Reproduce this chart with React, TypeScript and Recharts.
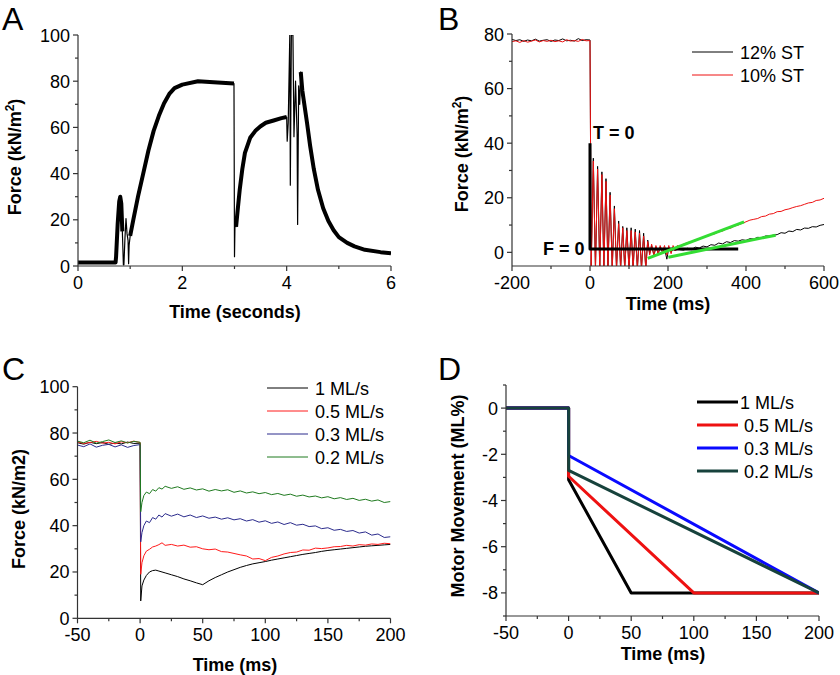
import React from "react";
import { LineChart, Line, XAxis, YAxis, Legend } from "recharts";

const FONT = '"Liberation Sans", Arial, sans-serif';
const AXIS = "#333";

// ---- Panel A: whole-twitch force trace (seconds)
const aTime = [0, 0.72, 0.73, 0.76, 0.79, 0.81, 0.83, 0.85, 0.87, 0.88, 0.9, 0.92, 0.94, 0.96, 0.97, 0.98, 1.0, 1.06, 1.15, 1.25, 1.35, 1.45, 1.55, 1.65, 1.75, 1.85, 2.0, 2.3, 2.6, 2.99, 3.0, 3.01, 3.03, 3.06, 3.1, 3.15, 3.2, 3.3, 3.4, 3.5, 3.6, 3.75, 3.9, 4.0, 4.01, 4.03, 4.06, 4.07, 4.09, 4.12, 4.14, 4.17, 4.2, 4.21, 4.23, 4.25, 4.27, 4.3, 4.39, 4.45, 4.52, 4.6, 4.7, 4.8, 4.9, 5.0, 5.16, 5.3, 5.5, 5.8, 6.0];
const aForce = [1.5, 1.5, 4, 18, 28, 30, 27, 15, 0.5, 0.5, 12, 20.5, 14, 11, 1, 9, 13, 20, 30, 40, 50, 58.5, 65, 70.5, 74.5, 77, 78.5, 80, 79.5, 79, 4, 19, 17, 24, 33, 42, 49, 55.5, 58.5, 60.5, 62, 63, 64, 64.5, 54, 62, 100, 35, 100, 100, 56, 80, 57, 18, 78, 70, 84, 76, 62, 52, 42, 33, 25, 19.5, 15.5, 12.5, 10, 8.5, 7, 6, 5.5];
// stretches where the recording is a thick noisy band
const aBandRanges = [[0, 0.85], [1.0, 2.99], [3.03, 4.0], [4.27, 6.0]];

// ---- Panel B: step release, 12% vs 10% ST (ms)
const bTime = [-200, -190, -180, -170, -160, -150, -140, -130, -120, -110, -100, -90, -80, -70, -60, -50, -40, -30, -20, -10, 0,
  3, 8.5, 14, 19.5, 25, 30.5, 35.5, 41, 46, 51.5, 57, 62.5, 68, 73.5, 78.5, 84, 89, 94.5, 100, 105.5, 110.5, 116, 121.5, 127, 132, 137.5, 143, 148,
  153, 158, 164, 169, 175, 180, 186, 191, 197, 202, 208, 213, 219, 224, 230,
  240, 250, 260, 270, 280, 290, 300, 310, 320, 330, 340, 350, 360, 370, 380, 390, 400, 410, 420, 430, 440, 450, 460, 470, 480, 490, 500, 510, 520, 530, 540, 550, 560, 570, 580, 590, 600];
const bBlack = [78.0, 77.6, 77.9, 77.3, 77.8, 77.5, 78.1, 77.4, 77.7, 77.9, 77.3, 77.8, 77.6, 78.2, 77.5, 77.7, 77.4, 78.3, 77.6, 77.9, 77.8,
  -6, 34.5, -6, 31.5, -6, 29.5, -6, 27, -6, 22, -6, 17, -6, 11.5, -6, 9.5, -6, 9, -6, 9, -6, 8.5, -6, 8, -6, 7, -6, 4.5,
  -0.5, 2.5, -1, 2, -0.5, 2, 0, 1.5, -2.5, 1.5, 0, 1.5, 0.5, 1.5, 1,
  0.8, 1.5, 1.0, 1.9, 1.6, 2.3, 2.0, 2.8, 2.6, 3.4, 3.1, 3.9, 3.6, 4.3, 4.1, 4.6, 4.4, 5.0, 4.9, 5.5, 5.4, 6.0, 6.0, 6.3, 6.5, 7.2, 7.0, 7.8, 7.6, 8.4, 8.2, 8.9, 8.8, 9.4, 9.3, 9.9, 10.2];
const bRed = [77.2, 77.5, 76.9, 77.6, 77.0, 77.4, 77.8, 77.1, 77.6, 77.3, 77.7, 77.2, 77.5, 77.1, 77.9, 77.4, 77.6, 77.3, 78.0, 77.5, 77.6,
  -6, 33.5, -6, 30.5, -6, 28.5, -6, 26, -6, 21, -6, 16, -6, 10.5, -6, 9, -6, 8, -6, 8, -6, 7.5, -6, 7, -6, 6, -6, 4,
  -1, 3, -1.5, 2.5, -0.5, 2.5, 0, 2.5, -1, 2.5, -0.5, 2.5, 0.5, 2.5, 2,
  3.0, 3.6, 3.9, 4.6, 4.9, 5.6, 5.9, 6.5, 6.8, 7.5, 7.8, 8.6, 8.8, 9.6, 10.0, 10.6, 11.2, 11.8, 12.1, 12.4, 13.1, 13.3, 14.0, 14.2, 14.9, 15.0, 15.6, 15.9, 16.4, 16.8, 17.1, 17.6, 18.1, 18.3, 19.0, 19.2, 19.8];
const bMarkTime = [0, 0, 380];
const bMarkForce = [40, 1.2, 1.2];
const bFit1Time = [148, 395];
const bFit1Force = [-2.2, 11.2];
const bFit2Time = [201, 476];
const bFit2Force = [-1.8, 6.3];
const bLabels = ["12% ST", "10% ST"];

// ---- Panel C: force during ramp releases (ms)
const cTime = [-50, -45, -40, -35, -30, -25, -20, -15, -10, -5, 0,
  0.5, 1.5, 3, 5, 7.5, 10, 12.5, 15, 17.5, 20,
  25, 30, 35, 40, 45, 50, 55, 60, 65, 70, 75, 80, 85, 90, 95, 100, 105, 110, 115, 120, 125, 130, 135, 140, 145, 150, 155, 160, 165, 170, 175, 180, 185, 190, 195, 200];
const c1 = [75.8, 75.2, 76.0, 75.4, 75.9, 75.1, 75.7, 75.3, 76.1, 75.5, 75.6,
  7.5, 14, 16.5, 18.5, 20, 20.6, 20.8, 20.4, 20, 19.6,
  18.8, 18, 17, 16.2, 15.3, 14.5, 16.2, 17.6, 18.8, 20, 21, 22, 22.8, 23.5, 24, 24.5, 25.1, 25.6, 26.1, 26.6, 27.1, 27.6, 28, 28.4, 28.9, 29.3, 29.6, 29.9, 30.2, 30.5, 30.8, 31.1, 31.3, 31.5, 31.7, 31.9];
const c05 = [76.2, 75.5, 75.9, 76.4, 75.6, 76.0, 75.3, 76.2, 75.8, 76.5, 75.9,
  19, 24, 27, 29, 29.8, 30.8, 31.2, 31.8, 32.6, 31.5,
  31.9, 31.2, 31.6, 30.7, 30.9, 30, 29.6, 29.9, 28.8, 28.6, 28, 27.4, 26.9, 25.6, 25.8, 24.9, 26.3, 26.9, 27.8, 28.4, 28.6, 29.5, 29.4, 30.3, 30.1, 30.4, 30.9, 31.0, 31.5, 31.2, 31.8, 31.6, 32.1, 31.9, 32.4, 32.2];
const c03 = [74.8, 74.1, 75.3, 73.9, 74.7, 75.1, 74.0, 74.9, 73.8, 74.6, 75.0,
  33, 37, 40, 42, 41.3, 43.5, 42.8, 44.6, 43.7, 45.2,
  44.1, 45.0, 43.8, 44.6, 43.5, 44.2, 43.2, 43.7, 42.8, 43.4, 42.5, 43.0, 42.0, 42.6, 41.5, 42.1, 41.0, 41.6, 40.5, 41.3, 40.2, 40.6, 39.6, 39.9, 38.7, 39.1, 38.0, 38.4, 37.5, 37.9, 36.8, 37.3, 35.9, 36.4, 34.9, 35.2];
const c02 = [76.5, 75.8, 76.9, 75.6, 76.3, 77.0, 75.9, 76.6, 75.7, 76.4, 76.0,
  46, 50, 53, 54.5, 53.8, 55.6, 54.9, 56.4, 55.8, 57.0,
  56.1, 56.8, 55.7, 56.3, 55.4, 55.9, 54.9, 55.6, 55.0, 55.5, 54.4, 55.0, 54.1, 54.6, 53.8, 54.3, 53.4, 53.9, 53.1, 53.6, 52.7, 53.2, 52.4, 52.8, 52.0, 52.5, 51.6, 52.1, 51.3, 51.8, 50.9, 51.4, 50.6, 51.1, 50.0, 50.4];
const speedLabels = ["1 ML/s", "0.5 ML/s", "0.3 ML/s", "0.2 ML/s"];

// ---- Panel D: motor movement (ML%)
const d1Time = [-50, 0, 0, 50, 200];
const d1Pos = [0, 0, -3.1, -8, -8];
const d05Time = [-50, 0, 0, 100, 200];
const d05Pos = [0, 0, -2.95, -8, -8];
const d03Time = [-50, 0, 0, 200];
const d03Pos = [0, 0, -2.05, -8];
const d02Time = [-50, 0, 0, 200];
const d02Pos = [0, 0, -2.7, -8];

const pts = (xs: number[], ys: (number | null)[]) => xs.map((x, i) => ({ x, y: ys[i] }));

const aTrace = pts(aTime, aForce);
const aBand = pts(aTime, aForce.map((f, i) => (aBandRanges.some(([s, e]) => aTime[i] >= s && aTime[i] <= e) ? f : null)));

const XTick = (props: any) => {
  const { x, y, payload, majors } = props;
  const major = majors.includes(payload.value);
  return (
    <g>
      <line x1={x} x2={x} y1={y} y2={y + (major ? 5 : 3)} stroke={AXIS} strokeWidth={1.2} />
      {major && (
        <text x={x} y={y + 23} textAnchor="middle" fontSize={18} fontFamily={FONT} fill="#000">
          {payload.value}
        </text>
      )}
    </g>
  );
};

const YTick = (props: any) => {
  const { x, y, payload, majors } = props;
  const major = majors.includes(payload.value);
  return (
    <g>
      <line x1={x - (major ? 5 : 3)} x2={x} y1={y} y2={y} stroke={AXIS} strokeWidth={1.2} />
      {major && (
        <text x={x - 8} y={y + 6.5} textAnchor="end" fontSize={18} fontFamily={FONT} fill="#000">
          {payload.value}
        </text>
      )}
    </g>
  );
};

function xAxis(domain: number[], ticks: number[], majors: number[]) {
  return (
    <XAxis type="number" dataKey="x" domain={domain} ticks={ticks} interval={0} allowDataOverflow
      height={30} tickSize={0} tickMargin={0} tickLine={false}
      axisLine={{ stroke: AXIS, strokeWidth: 1.2 }}
      tick={(p: any) => <XTick {...p} majors={majors} />} />
  );
}

function yAxis(domain: number[], ticks: number[], majors: number[]) {
  return (
    <YAxis type="number" domain={domain} ticks={ticks} interval={0} allowDataOverflow
      width={40} tickSize={0} tickMargin={0} tickLine={false}
      axisLine={{ stroke: AXIS, strokeWidth: 1.2 }}
      tick={(p: any) => <YTick {...p} majors={majors} />} />
  );
}

function LegendSvg({ labels, colors, width, lineW, textX }: any) {
  const gap = 23;
  return (
    <svg width={width} height={24 + (labels.length - 1) * gap} style={{ display: "block" }}>
      {labels.map((l: string, i: number) => {
        const cy = 12 + i * gap;
        return (
          <g key={l}>
            <line x1={0} x2={41} y1={cy} y2={cy} stroke={colors[i]} strokeWidth={lineW} />
            <text x={Array.isArray(textX) ? textX[i] : textX} y={cy + 6.5} fontSize={18} fontFamily={FONT} fill="#000">{l}</text>
          </g>
        );
      })}
    </svg>
  );
}

function legend(left: number, top: number, node: React.ReactNode) {
  return (
    <Legend layout="vertical" align="center" verticalAlign="middle"
      wrapperStyle={{ left, top, width: 160, height: "auto" }}
      content={() => node} />
  );
}

const C_COLORS = ["#000000", "#ff1a1a", "#2b2b8c", "#1f7a1f"];
const D_COLORS = ["#000000", "#ee1111", "#0a0aff", "#17423c"];

const line = (data: any[], color: string, w: number) => (
  <Line data={data} dataKey="y" stroke={color} strokeWidth={w} dot={false} activeDot={false}
    isAnimationActive={false} type="linear" strokeLinejoin="round" />
);

export default function App() {
  return (
    <div style={{ position: "absolute", left: 0, top: 0, width: 840, height: 675, background: "#fff", fontFamily: FONT }}>
      <div style={{ position: "absolute", left: 0, top: 0 }}>
        <LineChart width={420} height={330} margin={{ top: 35, right: 29, bottom: 34, left: 38 }}>
          {xAxis([0, 6], [0, 1, 2, 3, 4, 5, 6], [0, 2, 4, 6])}
          {yAxis([0, 100], [0, 10, 20, 30, 40, 50, 60, 70, 80, 90, 100], [0, 20, 40, 60, 80, 100])}
          {line(aBand, "#000", 4)}
          {line(aTrace, "#000", 1.2)}
        </LineChart>
      </div>

      <div style={{ position: "absolute", left: 420, top: 0 }}>
        <LineChart width={420} height={330} margin={{ top: 34, right: 16, bottom: 34, left: 52 }}>
          {xAxis([-200, 600], [-200, -100, 0, 100, 200, 300, 400, 500, 600], [-200, 0, 200, 400, 600])}
          {yAxis([-5, 80], [0, 10, 20, 30, 40, 50, 60, 70, 80], [0, 20, 40, 60, 80])}
          {line(pts(bTime, bBlack), "#000", 1)}
          {line(pts(bTime, bRed), "#ee1111", 1)}
          {line(pts(bMarkTime, bMarkForce), "#000", 3)}
          {line(pts(bFit1Time, bFit1Force), "#33dd33", 3)}
          {line(pts(bFit2Time, bFit2Force), "#33dd33", 3)}
          {legend(272, 40, <LegendSvg labels={bLabels} colors={["#000", "#ee1111"]} width={150} lineW={1} textX={48} />)}
        </LineChart>
      </div>

      <div style={{ position: "absolute", left: 0, top: 330 }}>
        <LineChart width={420} height={345} margin={{ top: 56.7, right: 29.5, bottom: 26.7, left: 37.5 }}>
          {xAxis([-50, 200], [-50, -25, 0, 25, 50, 75, 100, 125, 150, 175, 200], [-50, 0, 50, 100, 150, 200])}
          {yAxis([0, 100], [0, 10, 20, 30, 40, 50, 60, 70, 80, 90, 100], [0, 20, 40, 60, 80, 100])}
          {line(pts(cTime, c1), C_COLORS[0], 1)}
          {line(pts(cTime, c05), C_COLORS[1], 1)}
          {line(pts(cTime, c03), C_COLORS[2], 1)}
          {line(pts(cTime, c02), C_COLORS[3], 1)}
          {legend(267, 46, <LegendSvg labels={speedLabels} colors={C_COLORS} width={150} lineW={1} textX={48} />)}
        </LineChart>
      </div>

      <div style={{ position: "absolute", left: 420, top: 330 }}>
        <LineChart width={420} height={345} margin={{ top: 55, right: 21, bottom: 29, left: 46 }}>
          {xAxis([-50, 200], [-50, -25, 0, 25, 50, 75, 100, 125, 150, 175, 200], [-50, 0, 50, 100, 150, 200])}
          {yAxis([-9, 1], [-9, -8, -7, -6, -5, -4, -3, -2, -1, 0, 1], [-8, -6, -4, -2, 0])}
          {line(pts(d1Time, d1Pos), D_COLORS[0], 3)}
          {line(pts(d05Time, d05Pos), D_COLORS[1], 3)}
          {line(pts(d03Time, d03Pos), D_COLORS[2], 3)}
          {line(pts(d02Time, d02Pos), D_COLORS[3], 3)}
          {legend(277, 60, <LegendSvg labels={speedLabels} colors={D_COLORS} width={150} lineW={3} textX={[43, 47, 47, 47]} />)}
        </LineChart>
      </div>

      <svg width={840} height={675} style={{ position: "absolute", left: 0, top: 0, pointerEvents: "none" }}
        fontFamily={FONT} fill="#000">
        <text x={2} y={30} fontSize={32}>A</text>
        <text x={438} y={30} fontSize={32}>B</text>
        <text x={2} y={380} fontSize={32}>C</text>
        <text x={438} y={380} fontSize={32}>D</text>

        <text x={235} y={318} fontSize={18} fontWeight="bold" textAnchor="middle">Time (seconds)</text>
        <text x={668} y={310} fontSize={18} fontWeight="bold" textAnchor="middle">Time (ms)</text>
        <text x={235} y={671} fontSize={18} fontWeight="bold" textAnchor="middle">Time (ms)</text>
        <text x={663} y={660} fontSize={18} fontWeight="bold" textAnchor="middle">Time (ms)</text>

        <text transform="translate(21,157) rotate(-90)" fontSize={18} fontWeight="bold" textAnchor="middle">
          Force (kN/m<tspan dy={-7} fontSize={12}>2</tspan><tspan dy={7}>)</tspan>
        </text>
        <text transform="translate(468,154) rotate(-90)" fontSize={18} fontWeight="bold" textAnchor="middle">
          Force (kN/m<tspan dy={-7} fontSize={12}>2</tspan><tspan dy={7}>)</tspan>
        </text>
        <text transform="translate(25,509) rotate(-90)" fontSize={18} fontWeight="bold" textAnchor="middle">Force (kN/m2)</text>
        <text transform="translate(464,496) rotate(-90)" fontSize={18} fontWeight="bold" textAnchor="middle">Motor Movement (ML%)</text>

        <text x={593} y={139} fontSize={18} fontWeight="bold">T = 0</text>
        <text x={543} y={255} fontSize={18} fontWeight="bold">F = 0</text>
      </svg>
    </div>
  );
}
